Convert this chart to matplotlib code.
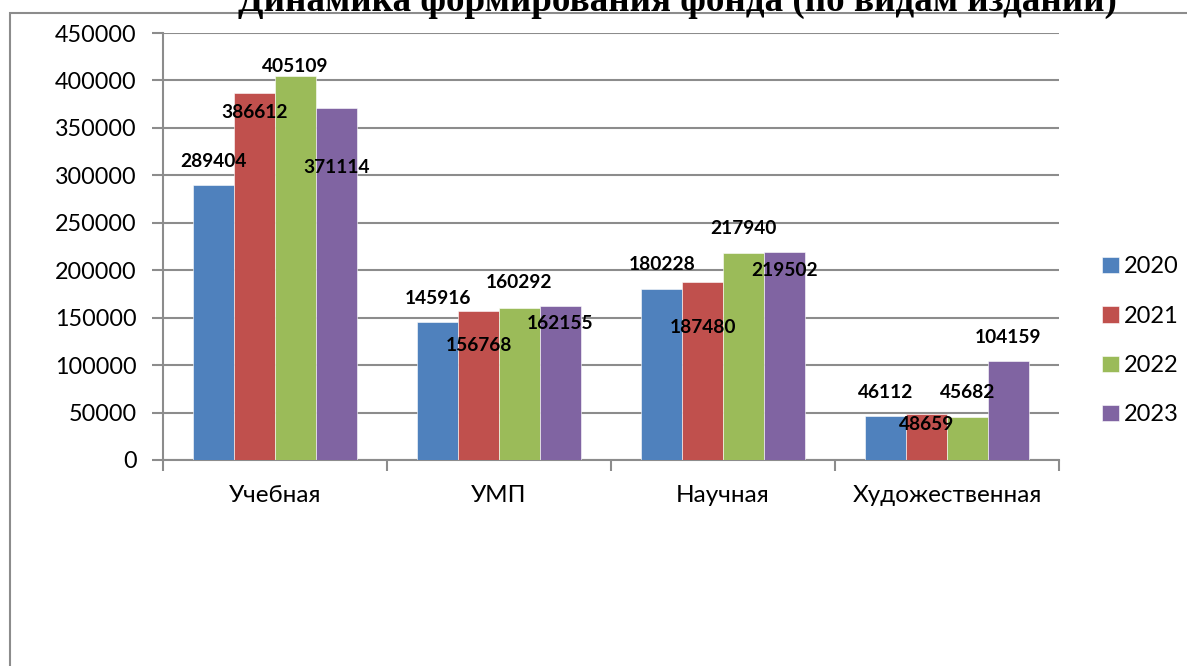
import numpy as np
import matplotlib.pyplot as plt
from matplotlib.patches import Rectangle

# data
categories = ['Учебная', 'УМП', 'Научная', 'Художественная']
years = ['2020', '2021', '2022', '2023']
v2020 = [289404, 145916, 180228, 46112]
v2021 = [386612, 156768, 187480, 48659]
v2022 = [405109, 160292, 217940, 45682]
v2023 = [371114, 162155, 219502, 104159]
series = [v2020, v2021, v2022, v2023]
colors = ['#4F81BD', '#C0504D', '#9BBB59', '#8064A2']

# label offsets above/below bar tops (pixels), as placed in the original
lab_off = [[24, 23, 24, 24],
           [-19, -34, -45, -11],
           [9, 25, 25, 24],
           [-60, -17, -19, 24]]

fig = plt.figure(figsize=(11.87, 6.66), dpi=100)
ax = fig.add_axes([163/1187, 1 - 460/666, (1059-163)/1187, (460-33)/666])

x = np.arange(len(categories)) + 0.5
w = 0.73 / 4
for i, vals in enumerate(series):
    pos = x - 0.365 + w * (i + 0.5)
    ax.bar(pos, vals, width=w, color=colors[i], edgecolor='white', linewidth=0.4,
           label=years[i], zorder=3)
    for j, v in enumerate(vals):
        ax.annotate(str(v), (pos[j], v), xytext=(0, lab_off[i][j]), textcoords='offset pixels',
                    ha='center', va='center', fontsize=13.8, fontweight='bold',
                    family='Lato', color='black', zorder=5)

ax.set_xlim(0, 4)
ax.set_ylim(0, 450000)
ax.set_yticks(np.arange(0, 450001, 50000))
ax.set_yticklabels([str(t) for t in range(0, 450001, 50000)], family='Lato', fontsize=16.8)
ax.yaxis.grid(True, color='#8c8c8c', linewidth=1.5, zorder=0)
ax.set_xticks([0, 1, 2, 3, 4])
ax.set_xticklabels([])
ax.set_xticks(x, minor=True)
ax.set_xticklabels(categories, minor=True, family='Lato', fontsize=17.5)
ax.tick_params(axis='x', which='minor', length=0, pad=18)
ax.tick_params(axis='x', which='major', length=8, color='#8c8c8c', width=1.5)
ax.tick_params(axis='y', length=8, color='#8c8c8c', width=1.5, pad=11)
for s in ['top', 'right']:
    ax.spines[s].set_visible(False)
for s in ['left', 'bottom']:
    ax.spines[s].set_color('#8c8c8c')
    ax.spines[s].set_linewidth(1.5)

leg = fig.legend(loc='center left', bbox_to_anchor=(1081/1187, 1 - 341/666), frameon=False,
                 prop={'family': 'Lato', 'size': 17}, handlelength=0.7, handleheight=0.7,
                 handletextpad=0.2, labelspacing=1.2)

# outer frame
fig.add_artist(Rectangle((10/1187, -0.1), 1.2, 1 - 13/666 + 0.1, transform=fig.transFigure,
                         fill=False, edgecolor='#8c8c8c', linewidth=1.5))
fig.text(677/1187, 1 - 11/666, 'Динамика формирования фонда (по видам изданий)',
         ha='center', va='baseline', family='Liberation Serif', fontweight='bold', fontsize=26.7)

fig.savefig('out.png', dpi=100)
